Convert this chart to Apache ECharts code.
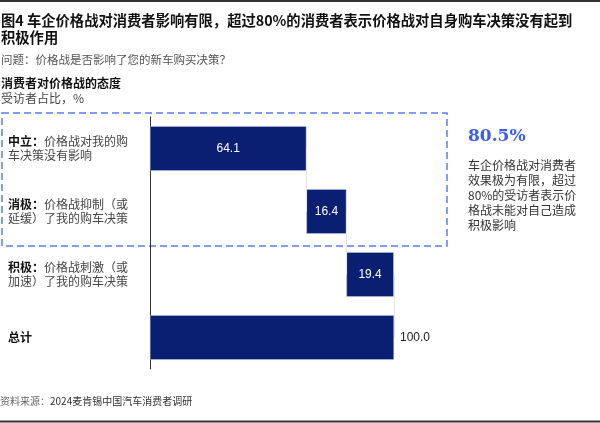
<!DOCTYPE html>
<html>
<head>
<meta charset="utf-8">
<script src="https://cdn.jsdelivr.net/npm/echarts@6/dist/echarts.min.js"></script>
<style>
html, body { margin: 0; padding: 0; background: #fff; }
#main { width: 600px; height: 423px; }
</style>
</head>
<body>
<div id="main"></div>
<script>
// data
var catBold = ['中立：', '消极：', '积极：', '总计'];
var catLine1 = ['价格战对我的购', '价格战抑制（或', '价格战刺激（或', ''];
var catLine2 = ['车决策没有影响', '延缓）了我的购车决策', '加速）了我的购车决策', ''];
var values = [64.1, 16.4, 19.4, 100.0];
var isTotal = [false, false, false, true];
var calloutValue = '80.5%';
var calloutText = ['车企价格战对消费者', '效果极为有限，超过', '80%的受访者表示价', '格战未能对自己造成', '积极影响'];

// waterfall bases
var bases = [];
var run = 0;
for (var i = 0; i < values.length; i++) {
	if (isTotal[i]) {
		bases.push(0);
	} else {
		bases.push(run);
		run += values[i];
	}
}
var ends = values.map(function (v, i) { return +(bases[i] + v).toFixed(1); });

var FONT = '"Noto Sans CJK SC", "Noto Sans", sans-serif';
var NAVY = '#0a1e72';

var connectors = [];
for (var k = 0; k < values.length - 1; k++) {
	connectors.push([
		{ coord: [ends[k], k] },
		{ coord: [ends[k], k + 1] }
	]);
}

var chart = echarts.init(document.getElementById('main'));
var option = {
	animation: false,
	grid: { left: 150, top: 117, right: 206, bottom: 54 },
	xAxis: {
		type: 'value',
		min: 0,
		max: 100,
		show: false
	},
	yAxis: {
		type: 'category',
		inverse: true,
		data: catBold.map(function (b, i) { return i; }),
		axisLine: { show: true, lineStyle: { color: '#333', width: 1 } },
		axisTick: { show: false },
		axisLabel: {
			align: 'left',
			margin: 142,
			formatter: function (v) {
				var i = +v;
				if (!catLine1[i]) return '{b|' + catBold[i] + '}';
				return '{b|' + catBold[i] + '}{n|' + catLine1[i] + '}\n{n|' + catLine2[i] + '}';
			},
			rich: {
				b: { fontFamily: FONT, fontSize: 12, fontWeight: 'bold', color: '#111', lineHeight: 14 },
				n: { fontFamily: FONT, fontSize: 12, color: '#444', lineHeight: 14 }
			}
		}
	},
	series: [
		{
			type: 'bar',
			stack: 'w',
			data: bases,
			barWidth: '71%',
			itemStyle: { color: 'transparent' },
			silent: true,
			markLine: {
				symbol: 'none',
				silent: true,
				label: { show: false },
				lineStyle: { color: '#e6e6e6', type: 'solid', width: 1 },
				data: connectors
			}
		},
		{
			type: 'bar',
			stack: 'w',
			data: values.map(function (v, i) {
				return {
					value: v,
					label: isTotal[i]
						? { position: 'right', color: '#222', distance: 6 }
						: { position: 'inside', color: '#fff' }
				};
			}),
			barWidth: '71%',
			itemStyle: { color: NAVY, borderColor: '#c9cfe6', borderWidth: 0.5 },
			label: {
				show: true,
				fontFamily: 'Liberation Sans, Arial, sans-serif',
				fontSize: 12,
				formatter: function (p) { return p.value.toFixed(1); }
			}
		}
	],
	graphic: [
		{ type: 'line', shape: { x1: 0, y1: 1, x2: 600, y2: 1 }, style: { stroke: '#333', lineWidth: 2 } },
		{ type: 'line', shape: { x1: 0, y1: 421.5, x2: 600, y2: 421.5 }, style: { stroke: '#333', lineWidth: 2 } },
		{
			type: 'text', left: 1, top: 12,
			style: {
				text: '图4 车企价格战对消费者影响有限，超过80%的消费者表示价格战对自身购车决策没有起到\n积极作用',
				font: 'bold 14.3px ' + FONT, fill: '#111', lineHeight: 17
			}
		},
		{
			type: 'text', left: 1, top: 54,
			style: { text: '问题：价格战是否影响了您的新车购买决策？', font: '11.5px ' + FONT, fill: '#555' }
		},
		{
			type: 'text', left: 1, top: 77,
			style: { text: '消费者对价格战的态度', font: 'bold 12px ' + FONT, fill: '#111' }
		},
		{
			type: 'text', left: 1, top: 92,
			style: { text: '受访者占比，%', font: '12px ' + FONT, fill: '#444' }
		},
		{
			type: 'rect', shape: { x: 2, y: 113, width: 445, height: 133 },
			style: { fill: 'none', stroke: '#5b7cf7', lineWidth: 1.5, lineDash: [7, 4] }
		},
		{
			type: 'text', left: 468, top: 128,
			style: { text: calloutValue, font: 'bold 17px "DejaVu Serif", "Liberation Serif", serif', fill: '#3b5cf6' }
		},
		{
			type: 'text', left: 468, top: 158,
			style: { text: calloutText.join('\n'), font: '12px ' + FONT, fill: '#333', lineHeight: 15 }
		},
		{
			type: 'text', left: 0, top: 396,
			style: {
				text: '{g|资料来源：}{d|2024麦肯锡中国汽车消费者调研}',
				rich: {
					g: { font: '10px ' + FONT, fill: '#666' },
					d: { font: '10px ' + FONT, fill: '#333' }
				}
			}
		}
	]
};
chart.setOption(option);
</script>
</body>
</html>
